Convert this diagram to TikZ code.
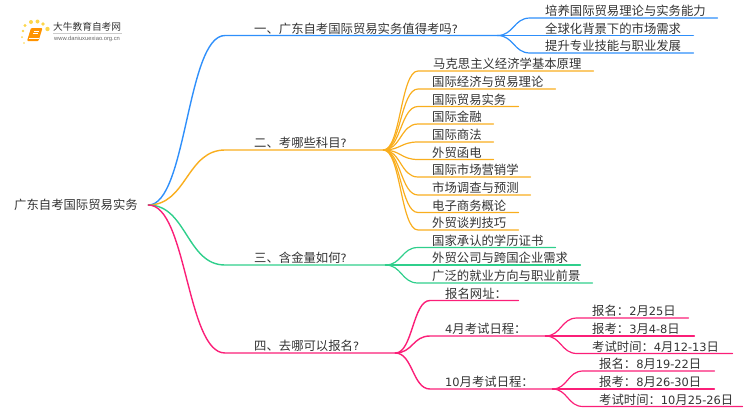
\documentclass[tikz,border=0pt]{standalone}
\usepackage{fontspec}
\setmainfont{Noto Sans CJK SC}
\newfontfamily\urlfont{Liberation Sans}
\newfontfamily\digitfont{DejaVu Sans}
\newcommand\dg[1]{{\digitfont\fontsize{11.4pt}{14pt}\selectfont #1}}
\usetikzlibrary{calc}
\definecolor{cblue}{HTML}{2E8FFB}
\definecolor{corange}{HTML}{F9AE1E}
\definecolor{cgreen}{HTML}{2FCF8C}
\definecolor{cpink}{HTML}{FB1F78}
\definecolor{ctext}{HTML}{333333}
\tikzset{
  lab/.style={anchor=south west,inner xsep=0pt,inner ysep=0.4pt,align=left,text height=11pt,text depth=1.5pt,font=\fontsize{12.35pt}{14pt}\selectfont,text=ctext},
  edge/.style={line width=1.4pt,line cap=round},
  leafedge/.style={line width=1.2pt,line cap=round},
}
% colour, start point, node whose underline ends the connector, style
\newcommand\linkto[4]{%
  \draw[#4,#1] (#2) .. controls ($(#2)!.5!(#3.south west|-#2)$) and ($(#3.south west)!.5!(#2|-#3.south west)$) .. (#3.south west) -- (#3.south east);}
\begin{document}
\begin{tikzpicture}[x=1pt,y=-1pt]
\useasboundingbox (0,0) rectangle (750,410);
% logo
\foreach \p/\r in {{23,31}/1.3,{25,25.5}/1.7,{31,22}/2,{37.5,21.5}/2,{43,24}/1.9,{47.5,29}/2.2,{22,37}/1,{24,43}/.8}
  \fill[yellow!60!orange!70] (\p) circle (\r);
\fill[orange!85!yellow,rounded corners=1pt] (31,28) -- (42.5,28) -- (38.5,41) -- (27,41) -- cycle;
\draw[white,line width=.6pt] (29,38.5) -- (38.5,38.5);
\draw[white,line width=.5pt] (33.5,31) -- (39,31) (32.8,33.5) -- (38.3,33.5);
\node[anchor=west,inner sep=0pt,text=ctext,font=\fontsize{9.7pt}{11pt}\selectfont] (logotitle) at (53,27) {大牛教育自考网};
\draw[black!20,line width=.5pt] (53,33.5) -- (122,33.5);
\node[anchor=west,inner sep=0pt,text=black!60,font=\urlfont\fontsize{5.8pt}{7pt}\selectfont] (logourl) at (54,38.7) {www.daniuxuexiao.org.cn};
% root
\node[lab,anchor=west,text width=134pt] (root) at (14,205) {广东自考国际贸易实务};
% branches
\node[lab,text width=272pt] (b1) at (225,35.5) {\hspace*{29pt}一、广东自考国际贸易实务值得考吗\dg{?}};
\node[lab,text width=158pt] (b2) at (225,150) {\hspace*{29pt}二、考哪些科目\dg{?}};
\node[lab,text width=160pt] (b3) at (225,265) {\hspace*{29pt}三、含金量如何\dg{?}};
\node[lab,text width=170pt] (b4) at (225,353) {\hspace*{29pt}四、去哪可以报名\dg{?}};
\linkto{cblue}{root.east}{b1}{edge}
\linkto{corange}{root.east}{b2}{edge}
\linkto{cgreen}{root.east}{b3}{edge}
\linkto{cpink}{root.east}{b4}{edge}
% branch 1 leaves
\node[lab,text width=187pt] (a1) at (530,18) {\hspace*{15pt}培养国际贸易理论与实务能力};
\node[lab,text width=163pt] (a2) at (530,35.5) {\hspace*{15pt}全球化背景下的市场需求};
\node[lab,text width=163pt] (a3) at (530,53) {\hspace*{15pt}提升专业技能与职业发展};
\foreach \n in {a1,a2,a3} {\linkto{cblue}{b1.south east}{\n}{leafedge}}
% branch 2 leaves
\node[lab,text width=175pt] (s1) at (418,71) {\hspace*{15pt}马克思主义经济学基本原理};
\node[lab,text width=137pt] (s2) at (418,89) {\hspace*{14pt}国际经济与贸易理论};
\node[lab,text width=100pt] (s3) at (418,106.5) {\hspace*{14pt}国际贸易实务};
\node[lab,text width=75pt] (s4) at (418,124) {\hspace*{14pt}国际金融};
\node[lab,text width=75pt] (s5) at (418,142) {\hspace*{14pt}国际商法};
\node[lab,text width=75pt] (s6) at (418,159.5) {\hspace*{14pt}外贸函电};
\node[lab,text width=112pt] (s7) at (418,177) {\hspace*{14pt}国际市场营销学};
\node[lab,text width=112pt] (s8) at (418,195) {\hspace*{14pt}市场调查与预测};
\node[lab,text width=100pt] (s9) at (418,212.5) {\hspace*{14pt}电子商务概论};
\node[lab,text width=100pt] (s10) at (418,230) {\hspace*{14pt}外贸谈判技巧};
\foreach \n in {s1,s2,s3,s4,s5,s6,s7,s8,s9,s10} {\linkto{corange}{b2.south east}{\n}{leafedge}}
% branch 3 leaves
\node[lab,text width=137pt] (g1) at (418,247.5) {\hspace*{14pt}国家承认的学历证书};
\node[lab,text width=162pt] (g2) at (418,265) {\hspace*{14pt}外贸公司与跨国企业需求};
\node[lab,text width=174pt] (g3) at (418,283) {\hspace*{14pt}广泛的就业方向与职业前景};
\foreach \n in {g1,g2,g3} {\linkto{cgreen}{b3.south east}{\n}{leafedge}}
% branch 4 children
\node[lab,text width=88pt] (p1) at (430,300.5) {\hspace*{15pt}报名网址：};
\node[lab,text width=115pt] (p2) at (430,336) {\hspace*{15pt}\dg{4}月考试日程：};
\node[lab,text width=122pt] (p3) at (430,389) {\hspace*{15pt}\dg{10}月考试日程：};
\foreach \n in {p1,p2,p3} {\linkto{cpink}{b4.south east}{\n}{edge}}
% April
\node[lab,text width=111pt] (q1) at (577,318) {\hspace*{15pt}报名：\dg{2}月\dg{25}日};
\node[lab,text width=117pt] (q2) at (577,336) {\hspace*{15pt}报考：\dg{3}月\dg{4-8}日};
\node[lab,text width=155pt] (q3) at (577,353.5) {\hspace*{15pt}考试时间：\dg{4}月\dg{12-13}日};
\foreach \n in {q1,q2,q3} {\linkto{cpink}{p2.south east}{\n}{leafedge}}
% October
\node[lab,text width=131pt] (r1) at (583,371) {\hspace*{16pt}报名：\dg{8}月\dg{19-22}日};
\node[lab,text width=131pt] (r2) at (583,389) {\hspace*{16pt}报考：\dg{8}月\dg{26-30}日};
\node[lab,text width=159pt] (r3) at (583,406.5) {\hspace*{16pt}考试时间：\dg{10}月\dg{25-26}日};
\foreach \n in {r1,r2,r3} {\linkto{cpink}{p3.south east}{\n}{leafedge}}
\end{tikzpicture}
\end{document}
